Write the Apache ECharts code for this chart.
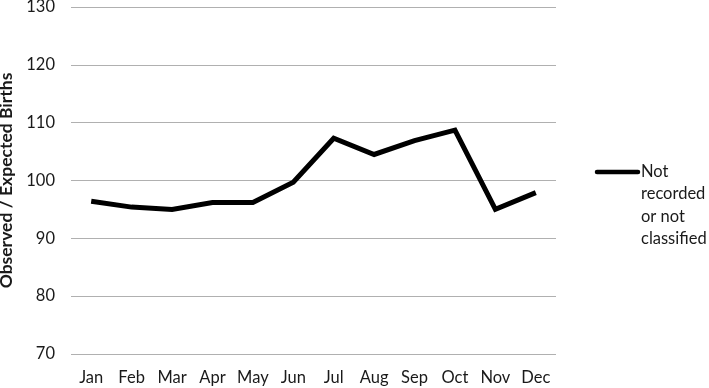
<!DOCTYPE html>
<html><head><meta charset="utf-8">
<script src="https://cdn.jsdelivr.net/npm/echarts@6/dist/echarts.min.js"></script>
<style>html,body{margin:0;padding:0;background:#fff}#c{width:709px;height:388px}</style>
</head><body><div id="c"></div>
<script>
const months = ['Jan','Feb','Mar','Apr','May','Jun','Jul','Aug','Sep','Oct','Nov','Dec'];
const seriesName = 'Not recorded or not classified';
const values = [96.4, 95.4, 95.0, 96.2, 96.2, 99.7, 107.3, 104.5, 106.9, 108.7, 95.0, 97.9];
const yTicks = [70, 80, 90, 100, 110, 120, 130];
const yTitle = 'Observed / Expected Births';
const FONT = 'Lato, "Open Sans", sans-serif';

const chart = echarts.init(document.getElementById('c'), null, {renderer: 'canvas'});
chart.setOption({
  animation: false,
  backgroundColor: '#fff',
  grid: {left: 71, right: 153, top: 7, bottom: 34, containLabel: false, outerBoundsMode: 'none'},
  xAxis: {
    type: 'category', data: months, boundaryGap: true,
    axisLine: {show: false}, axisTick: {show: false},
    axisLabel: {color: '#1a1a1a', fontFamily: FONT, fontSize: 16.5, margin: 15, interval: 0}
  },
  yAxis: {
    type: 'value', min: yTicks[0], max: yTicks[yTicks.length - 1], interval: 10,
    axisLine: {show: false}, axisTick: {show: false},
    axisLabel: {color: '#1a1a1a', fontFamily: FONT, fontSize: 16.5, margin: 16},
    splitLine: {lineStyle: {color: '#b0b0b0', width: 1}},
    name: yTitle, nameLocation: 'middle', nameGap: 49,
    nameTextStyle: {color: '#1a1a1a', fontFamily: FONT, fontSize: 17.5, fontWeight: 'bold'}
  },
  series: [{
    name: seriesName, type: 'line', data: values,
    symbol: 'none', lineStyle: {color: '#000', width: 5, join: 'miter'},
    itemStyle: {color: '#000'}
  }],
  graphic: [
    {type: 'line', shape: {x1: 597, y1: 172, x2: 638, y2: 172}, style: {stroke: '#000', lineWidth: 4.5, lineCap: 'round'}},
    {type: 'text', left: 641, top: 160, style: {text: 'Not\nrecorded\nor not\nclassified', fill: '#1a1a1a', font: '16.5px ' + FONT, lineHeight: 22.5}}
  ]
});
</script></body></html>
